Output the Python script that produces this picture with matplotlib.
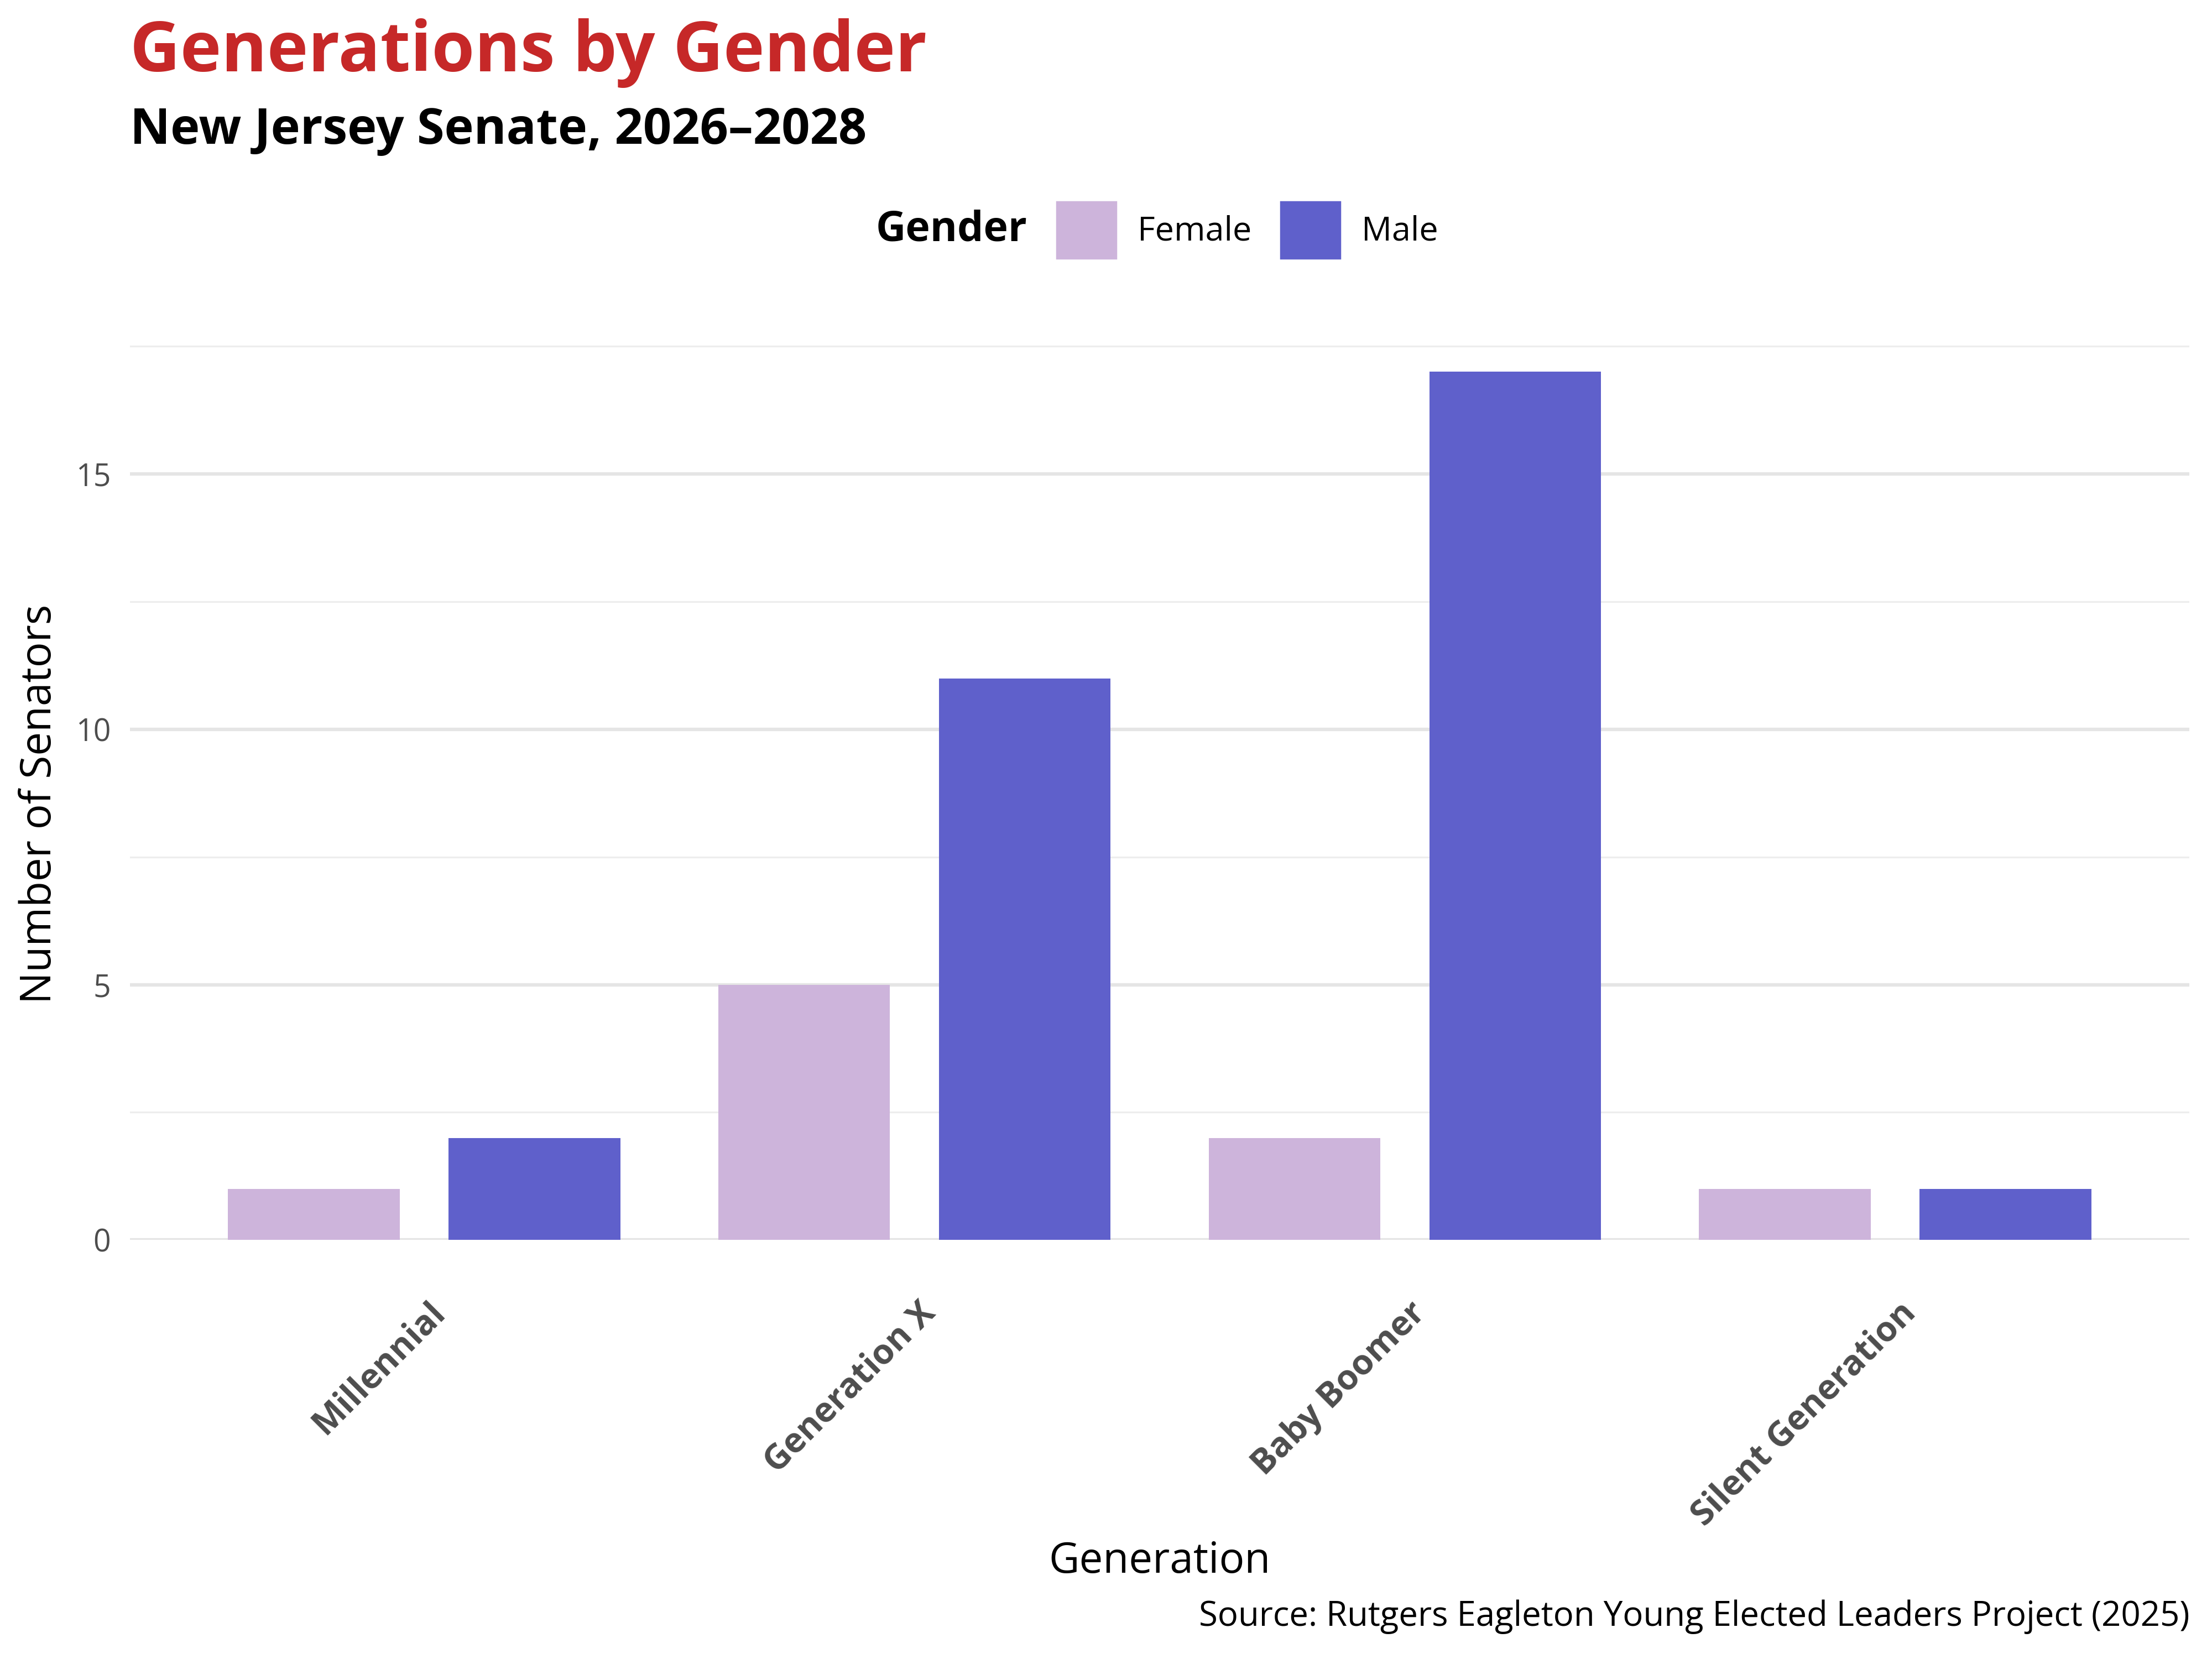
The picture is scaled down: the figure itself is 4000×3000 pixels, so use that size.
import numpy as np
import matplotlib.pyplot as plt
import matplotlib.transforms as mtransforms
from matplotlib.patches import Patch

# data
generations = ["Millennial", "Generation X", "Baby Boomer", "Silent Generation"]
female = [1, 5, 2, 1]
male = [2, 11, 17, 1]
genders = ["Female", "Male"]
colors = {"Female": "#CDB4DB", "Male": "#5F60CB"}

plt.rcParams['font.family'] = ['Open Sans', 'DejaVu Sans']

fig = plt.figure(figsize=(16, 12), dpi=250)
ax = fig.add_axes([0.0587, 0.2526, 0.9311, 0.5494])

x = np.arange(1, len(generations) + 1)
ax.bar(x - 0.225, female, width=0.35, color=colors["Female"], zorder=3)
ax.bar(x + 0.225, male, width=0.35, color=colors["Male"], zorder=3)

ax.set_xlim(0.4, 4.6)
ax.set_ylim(0, 17.85)

# grid
ax.set_yticks([0, 5, 10, 15])
ax.set_yticks([2.5, 7.5, 12.5, 17.5], minor=True)
ax.yaxis.grid(True, which='major', color='#E5E5E5', linewidth=1.8, zorder=0)
ax.yaxis.grid(True, which='minor', color='#EDEDED', linewidth=0.9, zorder=0)
ax.xaxis.grid(False)
for s in ax.spines.values():
    s.set_visible(False)

ax.tick_params(axis='y', which='both', length=0, pad=10, labelsize=16, labelcolor='#4D4D4D')
ax.tick_params(axis='x', which='both', length=0, pad=0)

ax.set_xticks(x)
ax.set_xticklabels(generations, rotation=45, ha='right', va='top',
                   rotation_mode='anchor', fontsize=18, fontweight='bold', color='#4D4D4D')
offset = mtransforms.ScaledTranslation(6 / 250, -100 / 250, fig.dpi_scale_trans)
for lbl in ax.get_xticklabels():
    lbl.set_transform(lbl.get_transform() + offset)

ax.set_xlabel('Generation', fontsize=22, color='black', va='center')
ax.xaxis.set_label_coords(0.5, -0.353)
fig.text(28 / 1568, 1 - 570 / 1176, 'Number of Senators', fontsize=22, rotation=90,
         ha='center', va='center')

# titles
fig.text(0.0587, 0.957, 'Generations by Gender', fontsize=36.2, fontweight='bold',
         color='#C62828', ha='left', va='baseline')
fig.text(0.0587, 0.9133, 'New Jersey Senate, 2026\u20132028', fontsize=25.9, fontweight='bold',
         color='black', ha='left', va='baseline')

# legend
fig.text(0.4643, 0.8614, 'Gender', fontsize=21.6, fontweight='bold', ha='right', va='center')
handles = [Patch(color=colors[g]) for g in genders]
fig.legend(handles, genders, loc='center left', bbox_to_anchor=(0.4777, 0.8614),
           ncol=2, frameon=False, fontsize=17.6, handlelength=1.75, handleheight=2.2,
           handletextpad=0.65, columnspacing=0.85, borderpad=0, borderaxespad=0)

fig.text(0.9898, 0.0255, 'Source: Rutgers Eagleton Young Elected Leaders Project (2025)',
         fontsize=17.8, ha='right', va='center')

fig.savefig('out.png', dpi=250)
